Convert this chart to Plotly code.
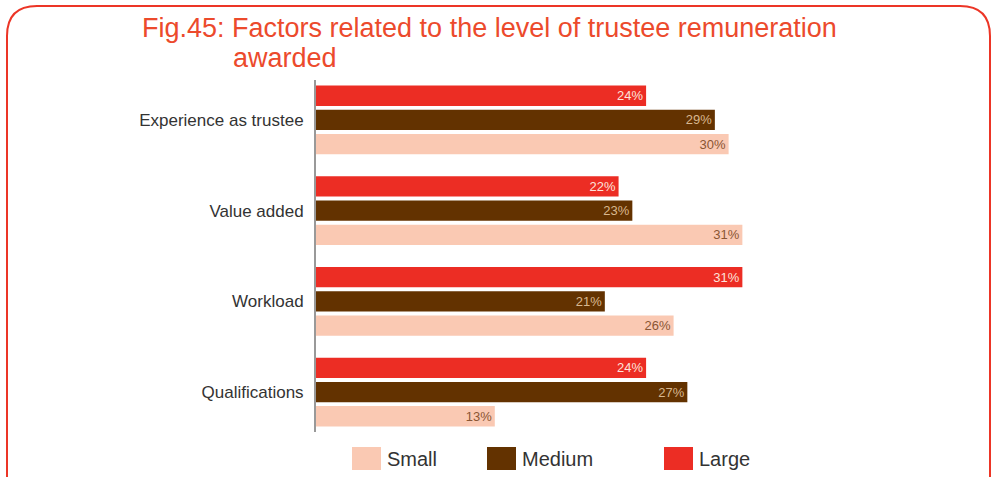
import plotly.graph_objects as go

categories = ["Experience as trustee", "Value added", "Workload", "Qualifications"]
small = [30, 31, 26, 13]
medium = [29, 23, 21, 27]
large = [24, 22, 31, 24]
legend_names = ["Small", "Medium", "Large"]

# pixel layout of the plot area
W, H = 998, 477
L, R, T, B = 316, 235, 80, 45
PW = W - L - R
PH = H - T - B


def px(x):
    return (x - L) / PW


def py(y):
    return 1 - (y - T) / PH


colors = {"Small": "#fac9b3", "Medium": "#633200", "Large": "#ec2d24"}
text_colors = {"Small": "#8a5634", "Medium": "#d8b78e", "Large": "#fde2da"}

fig = go.Figure()
for name, vals in [("Large", large), ("Medium", medium), ("Small", small)]:
    fig.add_trace(go.Bar(
        y=categories, x=vals, name=name, orientation="h",
        marker=dict(color=colors[name], line=dict(width=0)),
        text=[f"{v}%" for v in vals], textposition="inside",
        insidetextanchor="end",
        textfont=dict(color=text_colors[name], size=14.5, family="Liberation Sans, Arial"),
        showlegend=False,
    ))

fig.update_layout(
    width=W, height=H,
    margin=dict(l=L, r=R, t=T, b=B),
    barmode="group", bargap=0.2, bargroupgap=0.16,
    plot_bgcolor="white", paper_bgcolor="white",
    font=dict(family="Liberation Sans, Arial", color="#333333"),
    xaxis=dict(range=[0, 32.5], visible=False),
    yaxis=dict(categoryorder="array", categoryarray=categories,
               range=[3.44, -0.44], showgrid=False, showline=True,
               linecolor="#999999", linewidth=2, ticks="",
               tickfont=dict(size=17, color="#333333"), ticklabelstandoff=7),
)

# title
fig.add_annotation(x=px(140), y=py(28), xref="paper", yref="paper",
                   text="Fig.45: Factors related to the level of trustee remuneration",
                   showarrow=False, xanchor="left", yanchor="middle",
                   font=dict(size=27, color="#ec4a2c"))
fig.add_annotation(x=px(231), y=py(58), xref="paper", yref="paper",
                   text="awarded", showarrow=False, xanchor="left", yanchor="middle",
                   font=dict(size=27, color="#ec4a2c"))

# custom legend
legend_x = {"Small": 352, "Medium": 487, "Large": 664}
for name in legend_names:
    x0 = legend_x[name]
    fig.add_shape(type="rect", xref="paper", yref="paper",
                  x0=px(x0), x1=px(x0 + 29), y0=py(447), y1=py(470),
                  fillcolor=colors[name], line=dict(width=0))
    fig.add_annotation(x=px(x0 + 33), y=py(459), xref="paper", yref="paper",
                       text=name, showarrow=False, xanchor="left", yanchor="middle",
                       font=dict(size=20, color="#333333"))

# rounded border
x0, x1, y0, y1, r = px(7), px(990), py(6), py(500), 30
rx, ry = r / PW, r / PH
path = (f"M {x0},{y1} L {x0},{y0 - ry} Q {x0},{y0} {x0 + rx},{y0} "
        f"L {x1 - rx},{y0} Q {x1},{y0} {x1},{y0 - ry} L {x1},{y1}")
fig.add_shape(type="path", xref="paper", yref="paper", path=path,
              line=dict(color="#ec3526", width=2))

# the page has a default body margin; drop it so pixels line up
fig.write_html("out.html", config={"displayModeBar": False},
               post_script="document.body.style.margin='0';")
